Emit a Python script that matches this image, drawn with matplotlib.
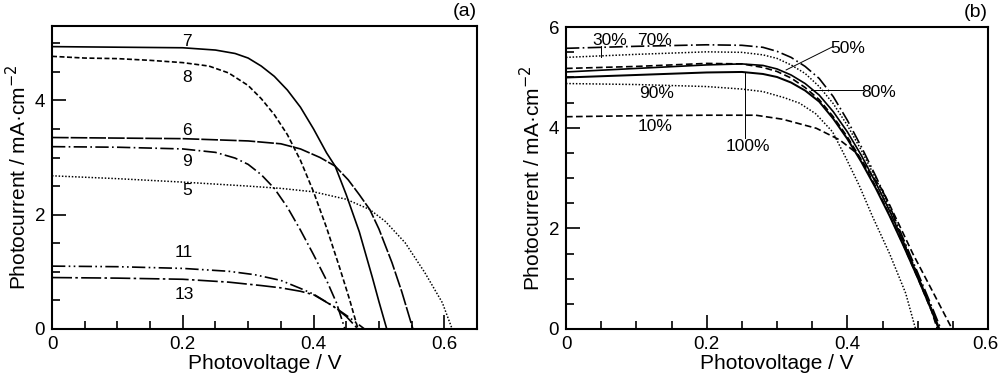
import matplotlib
matplotlib.use("Agg")
import matplotlib.pyplot as plt
from matplotlib.ticker import MultipleLocator
import matplotlib.transforms as mtransforms

plt.rcParams['font.family'] = ['Liberation Sans', 'DejaVu Sans']

# ---------------- Panel (a) data ----------------
v7 = [0, 0.1, 0.2, 0.25, 0.28, 0.30, 0.32, 0.34, 0.36, 0.38, 0.40, 0.42, 0.433, 0.45, 0.47, 0.48, 0.49, 0.50, 0.512]
j7 = [4.94, 4.93, 4.92, 4.88, 4.82, 4.74, 4.60, 4.42, 4.18, 3.88, 3.50, 3.08, 2.85, 2.35, 1.70, 1.30, 0.90, 0.48, 0]

v8 = [0, 0.05, 0.1, 0.15, 0.2, 0.24, 0.27, 0.30, 0.32, 0.34, 0.36, 0.38, 0.40, 0.42, 0.44, 0.455, 0.468]
j8 = [4.77, 4.74, 4.73, 4.70, 4.66, 4.60, 4.48, 4.26, 4.03, 3.75, 3.40, 2.95, 2.40, 1.77, 1.07, 0.52, 0]

v6 = [0, 0.1, 0.2, 0.3, 0.35, 0.38, 0.41, 0.433, 0.453, 0.47, 0.486, 0.50, 0.52, 0.535, 0.552]
j6 = [3.35, 3.34, 3.33, 3.29, 3.24, 3.15, 3.00, 2.85, 2.61, 2.35, 2.09, 1.75, 1.16, 0.65, 0]

v9 = [0, 0.1, 0.2, 0.25, 0.28, 0.30, 0.32, 0.34, 0.36, 0.38, 0.40, 0.42, 0.435, 0.448]
j9 = [3.19, 3.18, 3.15, 3.09, 2.99, 2.88, 2.70, 2.46, 2.13, 1.73, 1.30, 0.85, 0.46, 0]

v5 = [0, 0.1, 0.2, 0.3, 0.35, 0.40, 0.45, 0.486, 0.51, 0.54, 0.57, 0.597, 0.612]
j5 = [2.68, 2.63, 2.57, 2.50, 2.46, 2.40, 2.27, 2.09, 1.88, 1.51, 0.99, 0.46, 0]

v11 = [0, 0.1, 0.2, 0.27, 0.31, 0.35, 0.38, 0.40, 0.43, 0.455, 0.478]
j11 = [1.10, 1.09, 1.06, 1.01, 0.95, 0.85, 0.71, 0.61, 0.40, 0.20, 0]

v13 = [0, 0.1, 0.2, 0.27, 0.32, 0.35, 0.38, 0.40, 0.43, 0.45, 0.468]
j13 = [0.90, 0.89, 0.87, 0.82, 0.76, 0.72, 0.66, 0.60, 0.40, 0.22, 0]

labels_a = ["7", "8", "6", "9", "5", "11", "13"]
label_a_x = [0.206, 0.206, 0.206, 0.206, 0.206, 0.202, 0.202]
label_a_y = [5.03, 4.40, 3.47, 2.93, 2.42, 1.33, 0.60]

# ---------------- Panel (b) data ----------------
v70 = [0, 0.1, 0.2, 0.25, 0.28, 0.30, 0.32, 0.34, 0.36, 0.38, 0.40, 0.42, 0.44, 0.46, 0.48, 0.50, 0.52, 0.533]
j70 = [5.58, 5.62, 5.65, 5.64, 5.60, 5.52, 5.40, 5.22, 4.98, 4.62, 4.15, 3.62, 3.05, 2.45, 1.78, 1.12, 0.45, 0]

v30 = [0, 0.1, 0.2, 0.25, 0.28, 0.30, 0.32, 0.34, 0.36, 0.38, 0.40, 0.42, 0.44, 0.46, 0.48, 0.50, 0.52, 0.531]
j30 = [5.40, 5.46, 5.51, 5.50, 5.45, 5.38, 5.25, 5.08, 4.82, 4.48, 4.05, 3.55, 3.00, 2.40, 1.75, 1.08, 0.40, 0]

v50 = [0, 0.1, 0.2, 0.25, 0.28, 0.30, 0.32, 0.34, 0.36, 0.38, 0.40, 0.42, 0.44, 0.46, 0.48, 0.50, 0.52, 0.531]
j50 = [5.11, 5.18, 5.25, 5.27, 5.24, 5.17, 5.05, 4.88, 4.65, 4.32, 3.92, 3.45, 2.92, 2.35, 1.72, 1.06, 0.38, 0]

v80 = [0, 0.1, 0.2, 0.25, 0.28, 0.30, 0.32, 0.34, 0.36, 0.38, 0.40, 0.42, 0.44, 0.46, 0.48, 0.50, 0.52, 0.528]
j80 = [5.18, 5.22, 5.28, 5.27, 5.20, 5.12, 4.99, 4.80, 4.56, 4.22, 3.82, 3.36, 2.84, 2.27, 1.66, 1.02, 0.35, 0]

v100 = [0, 0.1, 0.2, 0.25, 0.28, 0.30, 0.32, 0.34, 0.36, 0.38, 0.40, 0.42, 0.44, 0.46, 0.48, 0.50, 0.52, 0.530]
j100 = [5.00, 5.05, 5.10, 5.11, 5.07, 5.01, 4.90, 4.74, 4.52, 4.18, 3.78, 3.32, 2.81, 2.25, 1.65, 1.02, 0.36, 0]

v90 = [0, 0.1, 0.2, 0.25, 0.28, 0.31, 0.332, 0.355, 0.379, 0.398, 0.417, 0.436, 0.46, 0.483, 0.497]
j90 = [4.88, 4.86, 4.82, 4.77, 4.72, 4.60, 4.49, 4.28, 3.92, 3.40, 2.85, 2.23, 1.50, 0.71, 0]

v10 = [0, 0.1, 0.2, 0.27, 0.308, 0.356, 0.389, 0.413, 0.43, 0.45, 0.47, 0.493, 0.52, 0.549]
j10 = [4.22, 4.24, 4.25, 4.25, 4.17, 3.99, 3.76, 3.50, 3.15, 2.76, 2.18, 1.50, 0.78, 0]

labels_b = ["30%", "70%", "50%", "80%", "90%", "10%", "100%"]
label_b_x = [0.062, 0.126, 0.400, 0.445, 0.129, 0.126, 0.258]
label_b_y = [5.74, 5.74, 5.58, 4.71, 4.69, 4.02, 3.62]

# leader lines (x0, y0, x1, y1)
lead_x0 = [0.050, 0.313, 0.348, 0.254]
lead_y0 = [5.41, 5.15, 4.75, 5.11]
lead_x1 = [0.050, 0.379, 0.422, 0.254]
lead_y1 = [5.62, 5.61, 4.75, 3.80]

# ---------------- figure ----------------
fig = plt.figure(figsize=(10, 3.83), dpi=100)
axa = fig.add_axes([0.052, 0.141, 0.425, 0.791])
axb = fig.add_axes([0.566, 0.141, 0.422, 0.788])

lw = 1.2
k = 'black'
axa.plot(v7, j7, color=k, lw=lw, linestyle='-')
axa.plot(v8, j8, color=k, lw=lw, linestyle=(0, (3, 1.5)))
axa.plot(v6, j6, color=k, lw=lw, linestyle=(0, (10, 1.2)))
axa.plot(v9, j9, color=k, lw=lw, linestyle=(0, (8, 2, 1, 2)))
axa.plot(v5, j5, color=k, lw=lw * 0.9, linestyle=(0, (1, 1.2)))
axa.plot(v11, j11, color=k, lw=lw, linestyle=(0, (8, 2, 1, 2, 1, 2)))
axa.plot(v13, j13, color=k, lw=lw, linestyle=(0, (12, 2, 1.5, 2)))

for t, x, y in zip(labels_a, label_a_x, label_a_y):
    axa.text(x, y, t, ha='center', va='center', fontsize=12.5)

axb.plot(v70, j70, color=k, lw=lw, linestyle=(0, (8, 2, 1, 2)))
axb.plot(v30, j30, color=k, lw=lw * 0.9, linestyle=(0, (1, 1.2)))
axb.plot(v50, j50, color=k, lw=lw, linestyle='-')
axb.plot(v80, j80, color=k, lw=lw, linestyle=(0, (4, 2)))
axb.plot(v100, j100, color=k, lw=lw * 1.2, linestyle='-')
axb.plot(v90, j90, color=k, lw=lw * 0.9, linestyle=(0, (1, 1.2)))
axb.plot(v10, j10, color=k, lw=lw, linestyle=(0, (4, 2)))

for x0, y0, x1, y1 in zip(lead_x0, lead_y0, lead_x1, lead_y1):
    axb.plot([x0, x1], [y0, y1], color=k, lw=0.7)

for t, x, y in zip(labels_b, label_b_x, label_b_y):
    axb.text(x, y, t, ha='center', va='center', fontsize=12.5)

for ax, xmax, ymax, yticks, lab in [(axa, 0.65, 5.3, [0, 2, 4], '(a)'),
                                    (axb, 0.6, 6.0, [0, 2, 4, 6], '(b)')]:
    ax.set_xlim(0, xmax)
    ax.set_ylim(0, ymax)
    ax.set_xticks([0, 0.2, 0.4, 0.6])
    ax.set_xticklabels(['0', '0.2', '0.4', '0.6'])
    ax.set_yticks(yticks)
    ax.xaxis.set_minor_locator(MultipleLocator(0.05))
    ax.yaxis.set_minor_locator(MultipleLocator(0.5))
    ax.tick_params(which='both', direction='in', top=False, right=False,
                   labelsize=13.5, width=1.2)
    ax.tick_params(which='major', length=10, pad=5)
    ax.tick_params(which='minor', length=6)
    for s in ax.spines.values():
        s.set_linewidth(1.5)
    ax.set_xlabel('Photovoltage / V', fontsize=15, labelpad=1)
    ax.set_ylabel('Photocurrent / mA·cm$^{-2}$', fontsize=15, labelpad=3)
    ax.text(1.0, 1.02, lab, transform=ax.transAxes, ha='right', va='bottom', fontsize=14)

# nudge the last x tick label of panel (b) so it stays inside the canvas
last = axb.get_xticklabels()[-1]
last.set_transform(last.get_transform() + mtransforms.ScaledTranslation(-3 / 100, 0, fig.dpi_scale_trans))

fig.savefig('out.png', dpi=100)
